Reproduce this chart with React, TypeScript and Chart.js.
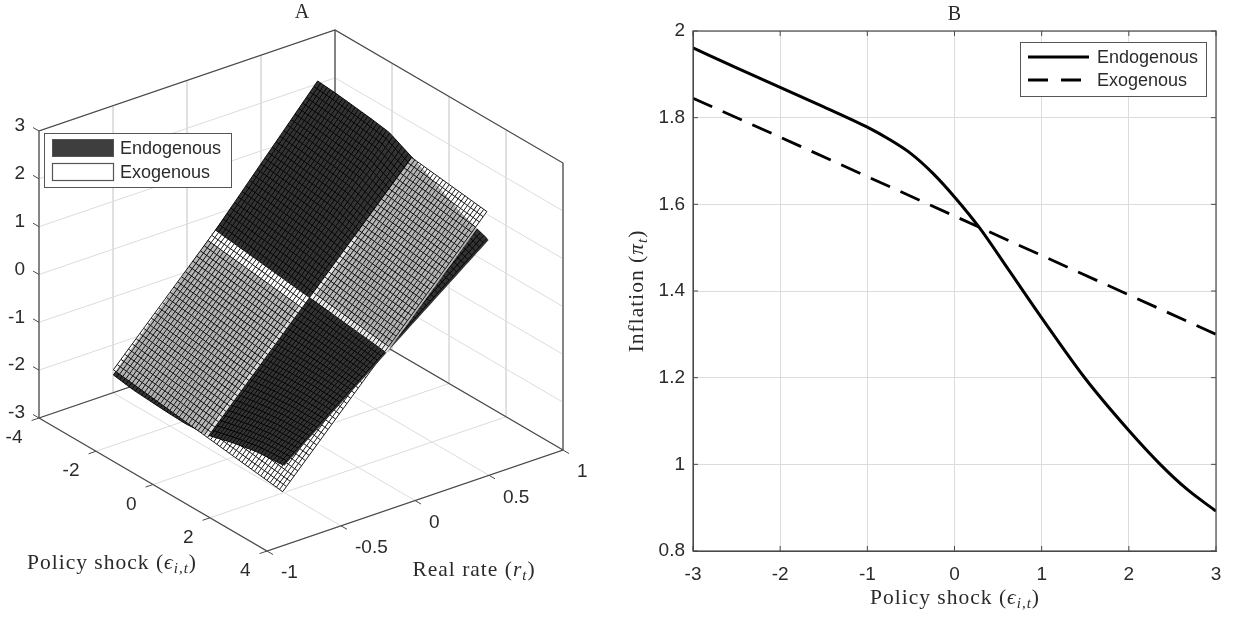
import React, { useEffect, useRef } from "react";
import { Chart, registerables } from "chart.js";

Chart.register(...registerables);

// ---------- Panel B data ----------
const endoShock = [-3, -2.5, -2, -1.5, -1, -0.75, -0.5, -0.25, 0, 0.29, 0.6, 1, 1.5, 2, 2.36, 2.67, 3];
const endoInflation = [1.961, 1.915, 1.87, 1.825, 1.778, 1.75, 1.717, 1.672, 1.617, 1.545, 1.455, 1.338, 1.198, 1.078, 1.0, 0.942, 0.892];
const exoShock = [-3, -2, -1, 0, 1, 2, 3];
const exoInflation = [1.845, 1.755, 1.664, 1.573, 1.482, 1.391, 1.3];
const bTicksX = [-3, -2, -1, 0, 1, 2, 3];
const bTicksY = [0.8, 1, 1.2, 1.4, 1.6, 1.8, 2];

// ---------- Panel A data (surface heights) ----------
const endoShockNodes = [-3, -2.3, -1.2, -0.5, 0.3, 1.2, 2, 3];
const endoZLow = [-2.08, -2.15, -2.2, -2.22, -2.19, -2.04, -1.94, -1.89];
const endoZMid = [0.22, 0.17, 0.08, 0.02, -0.04, -0.115, -0.18, -0.26];
const endoZHigh = [2.61, 2.57, 2.48, 2.41, 2.17, 1.87, 1.6, 1.37];
const exoShockNodes = [-3, 3];
const exoZLow = [-1.97, -2.46];
const exoZMid = [0.22, -0.26];
const exoZHigh = [2.42, 1.94];
const aTicksShock = [-4, -2, 0, 2, 4];
const aTicksRate = [-1, -0.5, 0, 0.5, 1];
const aTicksZ = [-3, -2, -1, 0, 1, 2, 3];

// View of the 3D box: page pixels per data unit
const project = (e: number, r: number, z: number) => ({
  x: 39 + (e + 4) * 28.5 + (r + 1) * 148,
  y: 418 + (e + 4) * 16.63 - (r + 1) * 50.5 - (z + 3) * 47.83,
});

const lerpTable = (xs: number[], ys: number[], x: number) => {
  for (let i = 0; i < xs.length - 1; i++) {
    if (x <= xs[i + 1] + 1e-9) {
      const t = (x - xs[i]) / (xs[i + 1] - xs[i]);
      return ys[i] + t * (ys[i + 1] - ys[i]);
    }
  }
  return ys[ys.length - 1];
};
const surface = (nodes: number[], low: number[], mid: number[], high: number[]) => (e: number, r: number) => {
  const zl = lerpTable(nodes, low, e);
  const zm = lerpTable(nodes, mid, e);
  const zh = lerpTable(nodes, high, e);
  return r <= 0 ? zl + ((r + 0.69) / 0.69) * (zm - zl) : zm + (r / 0.69) * (zh - zm);
};
const endoZ = surface(endoShockNodes, endoZLow, endoZMid, endoZHigh);
const exoZ = surface(exoShockNodes, exoZLow, exoZMid, exoZHigh);

const STEP_E = 0.11;
const STEP_R = 1.38 / 54;
const meshE = Array.from({ length: 56 }, (_, i) => -3 + i * STEP_E);
const meshR = Array.from({ length: 55 }, (_, i) => -0.69 + i * STEP_R);
const CROSS_E = 0.3;

type DS = any;
const segment = (pts: { x: number; y: number }[], color: string, width: number): DS => ({
  data: pts,
  borderColor: color,
  borderWidth: width,
  pointRadius: 0,
  fill: false,
  tension: 0,
  clip: false,
});
const polygon = (pts: { x: number; y: number }[], color: string): DS => ({
  data: [...pts, pts[0]],
  borderColor: "rgba(0,0,0,0)",
  borderWidth: 0,
  backgroundColor: color,
  pointRadius: 0,
  fill: "shape",
  tension: 0,
  clip: false,
});

const inRange = (v: number, a: number, b: number) => v >= a - 1e-6 && v <= b + 1e-6;

const patchOutline = (zf: (e: number, r: number) => number, e0: number, e1: number, r0: number, r1: number) => {
  const es = meshE.filter((v) => inRange(v, e0, e1));
  const rs = meshR.filter((v) => inRange(v, r0, r1));
  const pts: { x: number; y: number }[] = [];
  es.forEach((e) => pts.push(project(e, r0, zf(e, r0))));
  rs.forEach((r) => pts.push(project(e1, r, zf(e1, r))));
  [...es].reverse().forEach((e) => pts.push(project(e, r1, zf(e, r1))));
  [...rs].reverse().forEach((r) => pts.push(project(e0, r, zf(e0, r))));
  return pts;
};
const patchMesh = (zf: (e: number, r: number) => number, e0: number, e1: number, r0: number, r1: number, color: string, width: number) => {
  const es = meshE.filter((v) => inRange(v, e0, e1));
  const rs = meshR.filter((v) => inRange(v, r0, r1));
  const out: DS[] = [];
  es.forEach((e) => out.push(segment(rs.map((r) => project(e, r, zf(e, r))), color, width)));
  rs.forEach((r) => out.push(segment(es.map((e) => project(e, r, zf(e, r))), color, width)));
  return out;
};
const patch = (zf: (e: number, r: number) => number, e0: number, e1: number, r0: number, r1: number, fill: string, mesh: string, width: number) => [
  polygon(patchOutline(zf, e0, e1, r0, r1), fill),
  ...patchMesh(zf, e0, e1, r0, r1, mesh, width),
];

const buildPanelA = (): DS[] => {
  const gridColor = "#dcdcdc";
  const boxColor = "#4a4a4a";
  const list: DS[] = [];
  aTicksZ.forEach((z) => {
    list.push(segment([project(-4, -1, z), project(-4, 1, z), project(4, 1, z)], gridColor, 1));
  });
  aTicksRate.forEach((r) => {
    list.push(segment([project(-4, r, 3), project(-4, r, -3), project(4, r, -3)], gridColor, 1));
  });
  aTicksShock.forEach((e) => {
    list.push(segment([project(e, 1, 3), project(e, 1, -3), project(e, -1, -3)], gridColor, 1));
  });
  list.push(segment([project(-4, -1, -3), project(-4, -1, 3), project(-4, 1, 3), project(4, 1, 3), project(4, 1, -3), project(4, -1, -3), project(-4, -1, -3)], boxColor, 1.2));
  list.push(segment([project(-4, 1, 3), project(-4, 1, -3)], boxColor, 1.2));
  list.push(segment([project(-4, -1, -3), project(-4, 1, -3), project(4, 1, -3)], boxColor, 1.2));
  aTicksZ.forEach((z) => list.push(segment([project(-4, -1, z), project(-4.21, -1, z)], boxColor, 1)));
  aTicksShock.forEach((e) => list.push(segment([project(e, -1, -3), project(e, -1.05, -3)], boxColor, 1)));
  aTicksRate.forEach((r) => list.push(segment([project(4, r, -3), project(4.21, r, -3)], boxColor, 1)));

  const mesh = "#000000";
  const w = 0.9;
  // Plane parts lying under the endogenous surface
  list.push(...patch(exoZ, CROSS_E, 3, -0.69, 0, "#ffffff", mesh, w));
  list.push(...patch(exoZ, -3, CROSS_E, 0, 0.69, "#ffffff", mesh, w));
  // Endogenous surface
  list.push(...patch(endoZ, -3, 3, -0.69, 0.69, "#333333", "#000000", w));
  // Bright bands along the two crossing lines
  list.push(polygon(patchOutline(exoZ, -3, CROSS_E, -2 * STEP_R, 0), "#ffffff"));
  list.push(polygon(patchOutline(exoZ, CROSS_E - STEP_E, CROSS_E, -0.69, 0), "rgba(255,255,255,0.55)"));
  list.push(polygon(patchOutline(exoZ, CROSS_E, CROSS_E + STEP_E, 0, 0.3), "rgba(255,255,255,0.7)"));
  list.push(polygon(patchOutline(exoZ, CROSS_E, 3, 0, STEP_R), "rgba(255,255,255,0.7)"));
  // Plane parts lying over the endogenous surface
  const over = "rgba(255,255,255,0.66)";
  list.push(...patch(exoZ, -3, CROSS_E, -0.69, 0, over, mesh, w));
  list.push(...patch(exoZ, CROSS_E, 3, 0, 0.69, over, mesh, w));
  return list.reverse();
};

const TEXT = "#2b2b2b";
const SANS = '"Liberation Sans", Arial, sans-serif';
const SERIF = '"Liberation Serif", "DejaVu Serif", serif';

type Part = { t: string; italic?: boolean; sub?: boolean };
const drawMath = (c: any, parts: Part[], cx: number, cy: number, rot = 0) => {
  const fontOf = (p: Part) => `${p.italic ? "italic " : ""}${p.sub ? 15 : 21.5}px ${SERIF}`;
  c.save();
  c.letterSpacing = "1px";
  c.textAlign = "left";
  c.textBaseline = "alphabetic";
  c.fillStyle = TEXT;
  const widths = parts.map((p) => {
    c.font = fontOf(p);
    return c.measureText(p.t).width;
  });
  const total = widths.reduce((a, b) => a + b, 0);
  c.translate(cx, cy);
  c.rotate(rot);
  let x = -total / 2;
  parts.forEach((p, i) => {
    c.font = fontOf(p);
    c.fillText(p.t, x, p.sub ? 10 : 6);
    x += widths[i];
  });
  c.restore();
};
const shockLabel: Part[] = [{ t: "Policy shock (" }, { t: "ϵ", italic: true }, { t: "i,t", italic: true, sub: true }, { t: ")" }];
const rateLabel: Part[] = [{ t: "Real rate (" }, { t: "r", italic: true }, { t: "t", italic: true, sub: true }, { t: ")" }];
const inflationLabel: Part[] = [{ t: "Inflation (" }, { t: "π", italic: true }, { t: "t", italic: true, sub: true }, { t: ")" }];

const aLabels = {
  id: "aLabels",
  afterDraw(chart: any) {
    const c = chart.ctx;
    c.save();
    c.fillStyle = TEXT;
    c.textBaseline = "middle";
    c.font = `19px ${SANS}`;
    c.textAlign = "right";
    aTicksZ.forEach((z) => {
      c.fillText(String(z), 25, project(-4, -1, z).y - 5);
    });
    aTicksShock.forEach((e) => {
      const p = project(e, -1, -3);
      c.fillText(String(e), p.x - 16.5, p.y + 20);
    });
    c.textAlign = "left";
    aTicksRate.forEach((r) => {
      const p = project(4, r, -3);
      c.fillText(String(r), p.x + 14, p.y + 22);
    });
    c.textAlign = "center";
    c.font = `20px ${SERIF}`;
    c.fillText("A", 302, 13);
    drawMath(c, shockLabel, 112, 563);
    drawMath(c, rateLabel, 474, 570);
    c.fillStyle = "#ffffff";
    c.fillRect(44.5, 133.5, 187, 54);
    c.strokeStyle = "#555555";
    c.lineWidth = 1;
    c.strokeRect(44.5, 133.5, 187, 54);
    c.fillStyle = "#3e3e3e";
    c.fillRect(52.5, 139.5, 61, 17);
    c.strokeRect(52.5, 139.5, 61, 17);
    c.fillStyle = "#ffffff";
    c.lineWidth = 1.2;
    c.fillRect(52.5, 163.5, 61, 17);
    c.strokeRect(52.5, 163.5, 61, 17);
    c.fillStyle = TEXT;
    c.font = `18px ${SANS}`;
    c.textAlign = "left";
    c.fillText("Endogenous", 120, 149);
    c.fillText("Exogenous", 120, 173);
    c.restore();
  },
};

const bDecor = {
  id: "bDecor",
  afterDraw(chart: any) {
    const c = chart.ctx;
    const { left, right, top, bottom } = chart.chartArea;
    const sx = chart.scales.x;
    const sy = chart.scales.y;
    c.save();
    c.strokeStyle = "#4a4a4a";
    c.lineWidth = 1.2;
    c.strokeRect(left, top, right - left, bottom - top);
    c.lineWidth = 1;
    c.beginPath();
    bTicksX.forEach((v) => {
      const x = sx.getPixelForValue(v);
      c.moveTo(x, top);
      c.lineTo(x, top + 5);
      c.moveTo(x, bottom);
      c.lineTo(x, bottom - 5);
    });
    bTicksY.forEach((v) => {
      const y = sy.getPixelForValue(v);
      c.moveTo(left, y);
      c.lineTo(left + 5, y);
      c.moveTo(right, y);
      c.lineTo(right - 5, y);
    });
    c.stroke();
    // Legend (canvas starts at page x = 620)
    const ox = -620;
    c.fillStyle = "#ffffff";
    c.fillRect(1020.5 + ox, 42.5, 186, 54);
    c.strokeStyle = "#555555";
    c.strokeRect(1020.5 + ox, 42.5, 186, 54);
    c.strokeStyle = "#000000";
    c.lineWidth = 2.8;
    c.beginPath();
    c.moveTo(1028 + ox, 57);
    c.lineTo(1089 + ox, 57);
    c.stroke();
    c.setLineDash([20, 13]);
    c.beginPath();
    c.moveTo(1028 + ox, 80);
    c.lineTo(1089 + ox, 80);
    c.stroke();
    c.setLineDash([]);
    c.fillStyle = TEXT;
    c.font = `18px ${SANS}`;
    c.textAlign = "left";
    c.textBaseline = "middle";
    c.fillText("Endogenous", 1097 + ox, 58);
    c.fillText("Exogenous", 1097 + ox, 81);
    drawMath(c, shockLabel, 955 + ox, 598);
    drawMath(c, inflationLabel, 637 + ox, 291, -Math.PI / 2);
    c.restore();
  },
};

export default function App() {
  const aRef = useRef<HTMLCanvasElement>(null);
  const bRef = useRef<HTMLCanvasElement>(null);

  useEffect(() => {
    const chartA = new Chart(aRef.current as any, {
      type: "line",
      data: { datasets: buildPanelA() },
      options: {
        animation: false,
        responsive: false,
        events: [],
        layout: { padding: 0 },
        plugins: { legend: { display: false }, tooltip: { enabled: false }, title: { display: false } },
        scales: {
          x: { type: "linear", display: false, min: 0, max: 620 },
          y: { type: "linear", display: false, min: 0, max: 619, reverse: true },
        },
      },
      plugins: [aLabels],
    } as any);

    const chartB = new Chart(bRef.current as any, {
      type: "line",
      data: {
        datasets: [
          {
            label: "Endogenous",
            data: endoShock.map((x, i) => ({ x, y: endoInflation[i] })),
            borderColor: "#000000",
            borderWidth: 3,
            pointRadius: 0,
            cubicInterpolationMode: "monotone",
          },
          {
            label: "Exogenous",
            data: exoShock.map((x, i) => ({ x, y: exoInflation[i] })),
            borderColor: "#000000",
            borderWidth: 2.8,
            borderDash: [21, 11.5],
            pointRadius: 0,
          },
        ],
      },
      options: {
        animation: false,
        responsive: false,
        events: [],
        layout: { padding: { left: 0, right: 28, top: 0, bottom: 0 } },
        plugins: {
          legend: { display: false },
          tooltip: { enabled: false },
          title: {
            display: true,
            text: "B",
            color: TEXT,
            fullSize: false,
            font: { family: SERIF, size: 20, weight: "normal", lineHeight: 1.2 },
            padding: { top: 2.5, bottom: 4.5 },
          },
        },
        scales: {
          x: {
            type: "linear",
            min: -3,
            max: 3,
            afterFit: (s: any) => {
              s.height = 68;
            },
            afterBuildTicks: (s: any) => {
              s.ticks = bTicksX.map((value) => ({ value }));
            },
            grid: { color: "#dcdcdc", lineWidth: 1, tickLength: 0, drawTicks: false },
            border: { color: "#4a4a4a" },
            ticks: { color: TEXT, font: { family: SANS, size: 19 }, padding: 12, maxRotation: 0, autoSkip: false, callback: (v: any) => String(v) },
          },
          y: {
            type: "linear",
            min: 0.8,
            max: 2,
            afterFit: (s: any) => {
              s.width = 73;
            },
            afterBuildTicks: (s: any) => {
              s.ticks = bTicksY.map((value) => ({ value }));
            },
            grid: { color: "#dcdcdc", lineWidth: 1, tickLength: 0, drawTicks: false },
            border: { color: "#4a4a4a" },
            ticks: { color: TEXT, font: { family: SANS, size: 19 }, padding: 8, autoSkip: false, callback: (v: any) => String(+Number(v).toFixed(1)) },
          },
        },
      },
      plugins: [bDecor],
    } as any);

    return () => {
      chartA.destroy();
      chartB.destroy();
    };
  }, []);

  return (
    <div style={{ position: "fixed", left: 0, top: 0, width: 1244, height: 619, background: "#ffffff", overflow: "hidden" }}>
      <canvas ref={aRef} width={620} height={619} style={{ position: "absolute", left: 0, top: 0, display: "block" }} />
      <canvas ref={bRef} width={624} height={619} style={{ position: "absolute", left: 620, top: 0, display: "block" }} />
    </div>
  );
}
